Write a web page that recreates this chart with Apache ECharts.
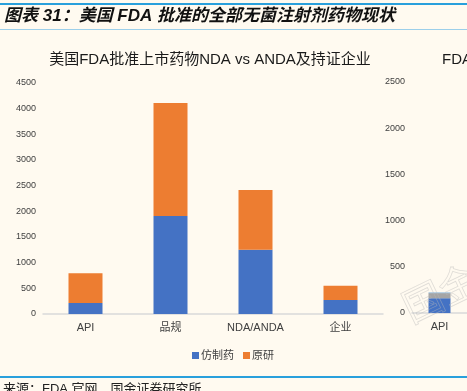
<!DOCTYPE html>
<html>
<head>
<meta charset="utf-8">
<script src="https://cdn.jsdelivr.net/npm/echarts@6/dist/echarts.min.js"></script>
<style>
html,body{margin:0;padding:0;background:#FFFAF0;}
#main{width:467px;height:391px;}
</style>
</head>
<body>
<div id="main"></div>
<script>
// 左图：NDA vs ANDA及持证企业
var categories = ['API', '品规', 'NDA/ANDA', '企业'];
var genericVals = [215, 1910, 1250, 272];
var originalVals = [578, 2200, 1165, 280];
var yTicksLeft = [0, 4500, 500];

// 右图（被截断，只看到API）
var rightCategories = ['API'];
var rightBlue = [160];
var rightGray = [55];
var rightLight = [6];
var yTicksRight = [0, 2500, 500];

var cjk = "'Liberation Sans','Noto Sans CJK SC',sans-serif";

var myChart = echarts.init(document.getElementById('main'));
var plainNum = function(v) { return String(v); };
var option = {
	backgroundColor: '#FFFAF0',
	animation: false,
	title: [{
		text: '美国FDA批准上市药物NDA vs ANDA及持证企业',
		left: 205, top: 47, textAlign: 'center',
		textStyle: {fontSize: 15, fontWeight: 'normal', color: '#1a1a1a', fontFamily: cjk}
	}, {
		text: 'FDA批准无菌注射剂药物',
		left: 437, top: 47,
		textStyle: {fontSize: 15, fontWeight: 'normal', color: '#1a1a1a', fontFamily: cjk}
	}],
	legend: {
		data: ['仿制药', '原研'],
		left: 187, top: 345, textAlign: 'center',
		itemWidth: 7, itemHeight: 7, itemGap: 9,
		icon: 'rect',
		textStyle: {fontSize: 11, color: '#404040', fontFamily: cjk, padding: [0, 0, 0, -3]}
	},
	grid: [
		{left: 43, top: 83, width: 340, height: 231},
		{left: 412, top: 82, width: 85, height: 231}
	],
	xAxis: [{
		type: 'category', gridIndex: 0, data: categories,
		axisLine: {lineStyle: {color: '#D9D9D9', width: 1.5}},
		axisTick: {show: false},
		axisLabel: {fontSize: 11, color: '#404040', margin: 8, fontFamily: cjk}
	}, {
		type: 'category', gridIndex: 1, data: rightCategories,
		axisLine: {lineStyle: {color: '#D9D9D9', width: 1.5}},
		axisTick: {show: false},
		axisLabel: {fontSize: 11, color: '#404040', margin: 8, fontFamily: cjk}
	}],
	yAxis: [{
		type: 'value', gridIndex: 0,
		min: yTicksLeft[0], max: yTicksLeft[1], interval: yTicksLeft[2],
		splitLine: {show: false}, axisLine: {show: false}, axisTick: {show: false},
		axisLabel: {fontSize: 9, color: '#404040', margin: 7, fontFamily: cjk, formatter: plainNum}
	}, {
		type: 'value', gridIndex: 1,
		min: yTicksRight[0], max: yTicksRight[1], interval: yTicksRight[2],
		splitLine: {show: false}, axisLine: {show: false}, axisTick: {show: false},
		axisLabel: {fontSize: 9, color: '#404040', margin: 7, fontFamily: cjk, formatter: plainNum}
	}],
	series: [{
		name: '仿制药', type: 'bar', stack: 'a', barWidth: '40%',
		xAxisIndex: 0, yAxisIndex: 0, data: genericVals,
		itemStyle: {color: '#4472C4'}
	}, {
		name: '原研', type: 'bar', stack: 'a', barWidth: '40%',
		xAxisIndex: 0, yAxisIndex: 0, data: originalVals,
		itemStyle: {color: '#ED7D31'}
	}, {
		name: 'r1', type: 'bar', stack: 'b', barWidth: '40%',
		xAxisIndex: 1, yAxisIndex: 1, data: rightBlue,
		itemStyle: {color: '#4472C4'}
	}, {
		name: 'r2', type: 'bar', stack: 'b', barWidth: '40%',
		xAxisIndex: 1, yAxisIndex: 1, data: rightGray,
		itemStyle: {color: '#A5A5A5'}
	}, {
		name: 'r3', type: 'bar', stack: 'b', barWidth: '40%',
		xAxisIndex: 1, yAxisIndex: 1, data: rightLight,
		itemStyle: {color: '#5B9BD5'}
	}],
	graphic: [
		/*顶部标题栏*/
		{type: 'rect', shape: {x: 0, y: 3, width: 467, height: 2}, style: {fill: '#29A0DC'}},
		{type: 'text', left: 4, top: 8, style: {
			text: '图表 31：美国 FDA 批准的全部无菌注射剂药物现状',
			fontSize: 17, fontWeight: 'bold', fontStyle: 'italic', fill: '#111', fontFamily: cjk
		}},
		{type: 'rect', shape: {x: 0, y: 29, width: 467, height: 1}, style: {fill: '#9CCFEA'}},
		/*水印*/
		{type: 'text', x: 396, y: 292, rotation: Math.PI / 7, style: {
			text: '国金证券', fontSize: 40, fill: 'rgba(255,255,255,0)', stroke: 'rgba(185,185,185,0.45)', lineWidth: 0.8,
			fontFamily: "'Noto Sans CJK SC'"
		}, z: 100},
		/*底部来源*/
		{type: 'rect', shape: {x: 0, y: 376, width: 467, height: 2}, style: {fill: '#29A0DC'}},
		{type: 'text', left: 3, top: 383, style: {
			text: '来源：FDA 官网，国金证券研究所', fontSize: 13, fill: '#222', fontFamily: cjk
		}}
	]
};
myChart.setOption(option);
</script>
</body>
</html>
